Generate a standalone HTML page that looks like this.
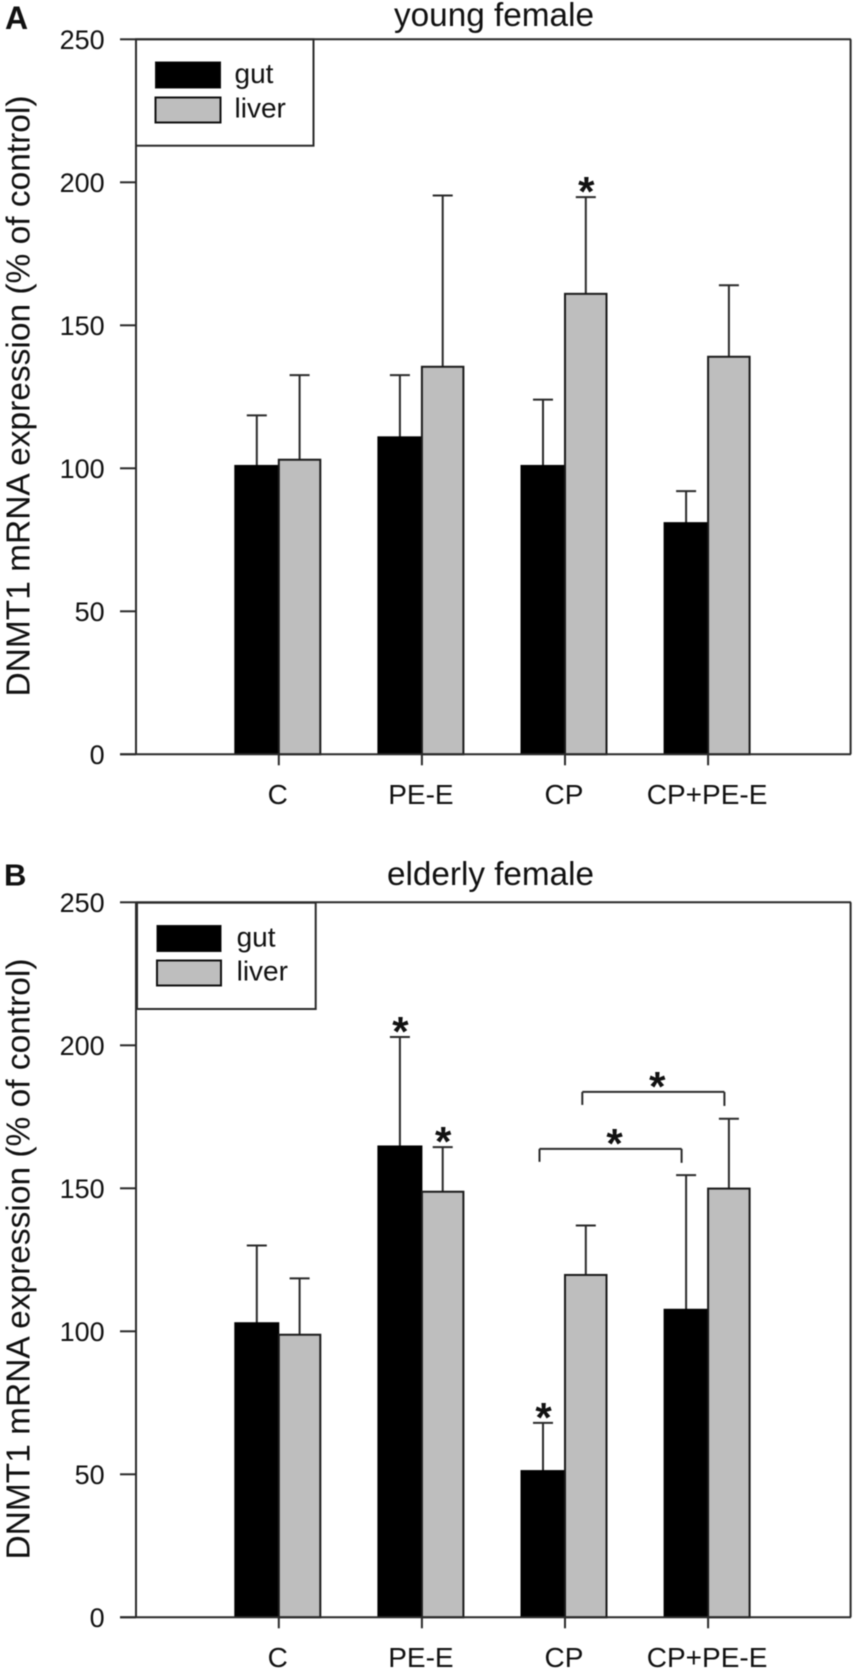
<!DOCTYPE html>
<html lang="en">
<head>
<meta charset="utf-8">
<title>DNMT1 mRNA expression</title>
<style>
html,body{margin:0;padding:0;background:#fff;}
#chart{display:block;width:855px;height:1670px;filter:blur(0.4px);}
text{font-family:"Liberation Sans",Arial,sans-serif;fill:#111;}
</style>
</head>
<body>
<svg id="chart" xmlns="http://www.w3.org/2000/svg" width="855" height="1670" viewBox="0 0 855 1670">
  <rect x="0" y="0" width="855" height="1670" fill="#fff"/>

  <g id="panelA">
    <text x="5" y="29" font-size="32" font-weight="bold">A</text>
    <text x="394" y="26" font-size="33" textLength="200" lengthAdjust="spacingAndGlyphs">young female</text>
    <text transform="translate(29.5,696.5) rotate(-90)" font-size="33.5" textLength="601" lengthAdjust="spacingAndGlyphs">DNMT1 mRNA expression (% of control)</text>
    <rect x="136" y="39.3" width="177.5" height="106.4" fill="#fff" stroke="#2a2a2a" stroke-width="2"/>
    <rect x="155.5" y="62" width="65" height="26" fill="#000" stroke="#111" stroke-width="1"/>
    <text x="234.5" y="83" font-size="28">gut</text>
    <rect x="155.5" y="97.5" width="65" height="25" fill="#bebebe" stroke="#111" stroke-width="2"/>
    <text x="234.5" y="117.7" font-size="28">liver</text>
  </g>

  <g id="panelB">
    <text x="4" y="885.5" font-size="31" font-weight="bold">B</text>
    <text x="387" y="885" font-size="33" textLength="207" lengthAdjust="spacingAndGlyphs">elderly female</text>
    <text transform="translate(29.5,1559.5) rotate(-90)" font-size="33.5" textLength="601" lengthAdjust="spacingAndGlyphs">DNMT1 mRNA expression (% of control)</text>
    <rect x="137" y="902.7" width="178.7" height="106.3" fill="#fff" stroke="#2a2a2a" stroke-width="2"/>
    <rect x="157" y="925.5" width="64" height="26" fill="#000" stroke="#111" stroke-width="1"/>
    <text x="236.6" y="946.7" font-size="28">gut</text>
    <rect x="157" y="960.5" width="64" height="25" fill="#bebebe" stroke="#111" stroke-width="2"/>
    <text x="236.6" y="980.7" font-size="28">liver</text>
  </g>
</svg>

<script>
const categories = ["C", "PE-E", "CP", "CP+PE-E"];
const tickLabels = [0, 50, 100, 150, 200, 250];

const gutA = [101, 111, 101, 81];
const liverA = [103, 135.5, 161, 139];
const gutErrTopA = [118.5, 132.6, 124, 92];
const liverErrTopA = [132.6, 195.4, 194.8, 164];

const gutB = [103, 164.8, 51.3, 107.7];
const liverB = [98.8, 148.8, 119.7, 149.9];
const gutErrTopB = [130, 202.9, 68, 154.6];
const liverErrTopB = [118.5, 164.4, 137, 174.3];

const starsA = [["liver", 2]];
const starsB = [["gut", 1], ["liver", 1], ["gut", 2]];
const bracketCatsB = [["gut", 2, "gut", 3, 163.8], ["liver", 2, "liver", 3, 183.7]];

const SVG_NS = "http://www.w3.org/2000/svg";
const INK = "#2a2a2a";

function xCat(i) { return 278.8 + i * 143.1; }
function yVal(v, zeroY) { return zeroY - v * 2.86; }
function xErr(series, i) { return series === "gut" ? xCat(i) - 22 : xCat(i) + 20.8; }

function shape(parent, tag, attrs) {
  const el = document.createElementNS(SVG_NS, tag);
  for (const k in attrs) el.setAttribute(k, attrs[k]);
  parent.appendChild(el);
  return el;
}

function line(parent, name, x1, y1, x2, y2, w) {
  const el = shape(parent, "line", { x1: x1, y1: y1, x2: x2, y2: y2, stroke: INK, "stroke-width": w || 2 });
  
  
  return el;
}

function star(parent, x, cy) {
  const el = shape(parent, "text", { x: x, y: cy + 20, "font-size": 42, "font-weight": "bold", "text-anchor": "middle" });
  el.textContent = "*";
  
  
}

function drawPanel(group, zeroY, gut, liver, gutErr, liverErr, stars, brackets) {
  const topY = yVal(250, zeroY);

  categories.forEach(function (cat, i) {
    const c = xCat(i);
    const errs = [["gut", gutErr[i], gut[i]], ["liver", liverErr[i], liver[i]]];
    errs.forEach(function (e) {
      const ex = xErr(e[0], i);
      line(group, e[0] + '-error-bar', ex, yVal(e[2], zeroY), ex, yVal(e[1], zeroY));
      line(group, e[0] + '-error-cap', ex - 10, yVal(e[1], zeroY), ex + 10, yVal(e[1], zeroY));
    });

    const gutBar = shape(group, "rect", { x: c - 44, y: yVal(gut[i], zeroY), width: 44, height: gut[i] * 2.86, fill: "#000", stroke: "#000", "stroke-width": 1 });
    
    

    const liverBar = shape(group, "rect", { x: c, y: yVal(liver[i], zeroY), width: 41.5, height: liver[i] * 2.86, fill: "#bebebe", stroke: "#1a1a1a", "stroke-width": 2 });
    
    

    line(group, 'x-tick', c, zeroY, c, zeroY + 11);

    const label = shape(group, "text", { x: c - 1, y: zeroY + 49.7, "font-size": 28, "text-anchor": "middle" });
    label.textContent = cat;
    
    
  });

  line(group, 'y-axis', 136, topY, 136, zeroY);
  line(group, 'right-border', 850.6, topY, 850.6, zeroY);
  line(group, 'x-axis', 120, zeroY, 851, zeroY);
  line(group, 'top-border', 136, topY, 851, topY);

  tickLabels.forEach(function (t) {
    const y = yVal(t, zeroY);
    line(group, 'y-tick', 120, y, 136, y);
    const label = shape(group, "text", { x: 104.7, y: y + 9.7, "font-size": 27, "text-anchor": "end" });
    label.textContent = t;
    
    
  });

  stars.forEach(function (s) {
    const top = s[0] === "gut" ? gutErr[s[1]] : liverErr[s[1]];
    star(group, xErr(s[0], s[1]) + 0.5, yVal(top, zeroY) - 11);
  });

  brackets.forEach(function (b) {
    const x1 = xErr(b[0], b[1]) - 3.5;
    const x2 = xErr(b[2], b[3]) - 4.5;
    const y = yVal(b[4], zeroY);
    line(group, 'bracket-top', x1, y, x2, y);
    line(group, 'bracket-left', x1, y, x1, y + 13);
    line(group, 'bracket-right', x2, y, x2, y + 14);
    star(group, (x1 + x2) / 2 + 4, y - 11);
  });
}

drawPanel(document.getElementById("panelA"), 754.3, gutA, liverA, gutErrTopA, liverErrTopA, starsA, []);
drawPanel(document.getElementById("panelB"), 1617.3, gutB, liverB, gutErrTopB, liverErrTopB, starsB, bracketCatsB);
</script>
</body>
</html>
